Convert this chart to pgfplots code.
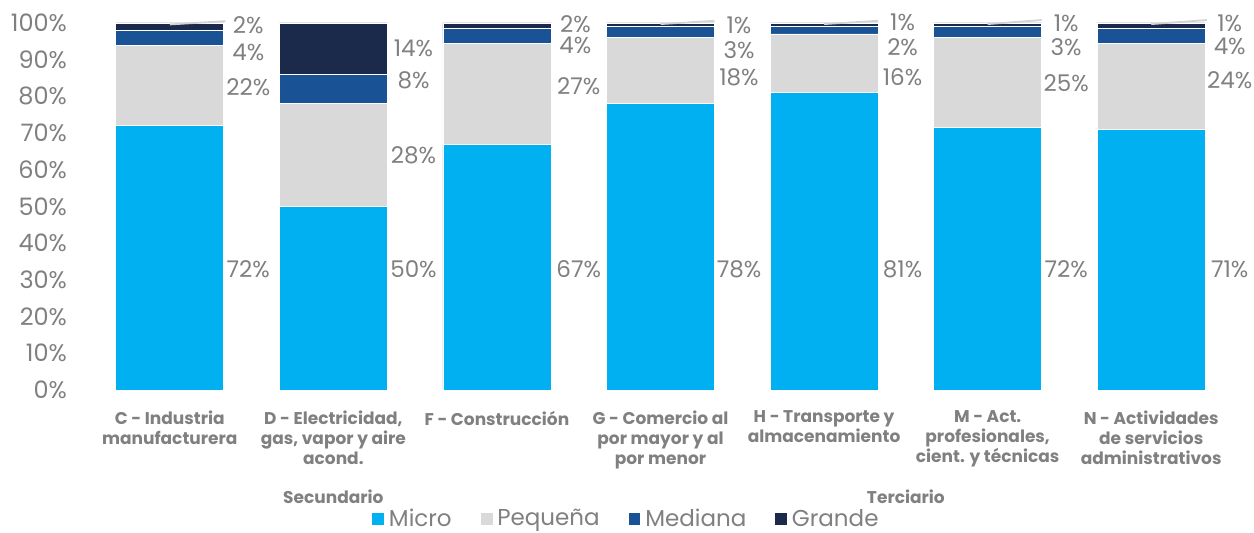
\documentclass[border=0pt]{standalone}
\usepackage{fontspec}
\setmainfont{Poppins}
\usepackage{pgfplots}
\usepackage{pgfplotstable}
\pgfplotsset{compat=1.18}

\definecolor{cMicro}{HTML}{00B0F0}
\definecolor{cPeq}{HTML}{D9D9D9}
\definecolor{cMed}{HTML}{1A5296}
\definecolor{cGra}{HTML}{1B2A4A}
\definecolor{txt}{HTML}{808080}

% shares by size, per sector (percent)
\pgfplotstableread{
x micro peq  med gra
0 72    22   4   2
1 50    28   8   14
2 67    27.5 4   1.5
3 78    18   3   1
4 81    16   2   1
5 71.5  24.5 3   1
6 71    23.5 4   1.5
}\shares

% data labels: position and printed value
\pgfplotstableread{
x    y     v
0.48 99.5  2
0.48 92.1  4
0.48 82.6  22
0.48 33.0  72
1.49 93.2  14
1.49 84.5  8
1.49 64.0  28
1.49 33.0  50
2.48 99.7  2
2.48 93.8  4
2.50 82.8  27
2.50 33.0  67
3.48 99.5  1
3.48 92.6  3
3.48 85.3  18
3.48 33.0  78
4.48 100.3 1
4.48 93.5  2
4.48 85.3  16
4.48 33.0  81
5.48 100.0 1
5.48 93.5  3
5.48 83.7  25
5.48 33.0  72
6.48 100.0 1
6.48 93.5  4
6.48 84.5  24
6.48 33.0  71
}\labels

\pgfplotsset{base/.style={
  scale only axis, width=572.5pt, height=183.5pt,
  xmin=-0.5, xmax=6.5, ymin=0, ymax=100}}

\begin{document}
\begin{tikzpicture}
\begin{axis}[base,
  ybar stacked, bar width=54pt,
  axis line style={draw=none}, major tick length=0pt,
  ytick={0,10,...,100},
  yticklabel={\pgfmathprintnumber{\tick}\%},
  yticklabel style={font=\fontsize{12}{14}\selectfont, text=txt,
    /pgf/number format/assume math mode=true, xshift=-7pt},
  xtick={0,...,6},
  xticklabels={{C - Industria\\manufacturera},
    {D - Electricidad,\\gas, vapor y aire\\acond.},
    {F - Construcción},
    {G - Comercio al\\por mayor y al\\por menor},
    {H - Transporte y\\almacenamiento},
    {M - Act.\\profesionales,\\cient. y técnicas},
    {N - Actividades\\de servicios\\administrativos}},
  xticklabel style={align=center, text=txt, yshift=-7pt,
    font=\bfseries\fontsize{8.5}{10}\selectfont},
  legend style={at={(0.4707,-0.352)}, anchor=center, draw=none,
    font=\fontsize{11.5}{13}\selectfont, text=txt, legend columns=-1,
    inner sep=1pt,
    /tikz/every even column/.append style={column sep=12pt}},
  legend image code/.code={\fill[#1] (0pt,-3.2pt) rectangle (6.4pt,3.2pt);},
]
\addplot[fill=cMicro, draw=white, line width=0.4pt] table[x=x, y=micro] {\shares};
\addlegendentry{Micro}
\addplot[fill=cPeq, draw=white, line width=0.4pt] table[x=x, y=peq] {\shares};
\addlegendentry{Pequeña}
\addplot[fill=cMed, draw=white, line width=0.4pt] table[x=x, y=med] {\shares};
\addlegendentry{Mediana}
\addplot[fill=cGra, draw=white, line width=0.4pt] table[x=x, y=gra] {\shares};
\addlegendentry{Grande}
\end{axis}

\begin{axis}[base, hide axis, clip=false]
\addplot[draw=none, mark=none, point meta=explicit,
  nodes near coords={\pgfmathprintnumber{\pgfplotspointmeta}\%},
  nodes near coords style={anchor=center, text=txt, inner sep=0.5pt,
    /pgf/number format/assume math mode=true,
    font=\fontsize{11.5}{13}\selectfont}]
  table[x=x, y=y, meta=v] {\labels};
% leader lines
\addplot[gray!35, line width=0.9pt] coordinates {(0,99.6)(0.34,100.5)};
\addplot[gray!35, line width=0.9pt] coordinates {(3,99.7)(3.33,100.6)};
\addplot[gray!35, line width=0.9pt] coordinates {(4,99.7)(4.33,100.6)};
\addplot[gray!35, line width=0.9pt] coordinates {(5,99.7)(5.33,100.8)};
\addplot[gray!35, line width=0.9pt] coordinates {(6,99.7)(6.34,100.8)};
\node[text=txt, font=\bfseries\fontsize{8.5}{10}\selectfont, yshift=-53.5pt]
  at (axis cs:1,0) {Secundario};
\node[text=txt, font=\bfseries\fontsize{8.5}{10}\selectfont, yshift=-53.5pt]
  at (axis cs:4.5,0) {Terciario};
\coordinate (bl) at ([xshift=-44pt, yshift=-71.5pt]rel axis cs:0,0);
\coordinate (tr) at ([xshift=10.5pt, yshift=11.5pt]rel axis cs:1,1);
\end{axis}
\pgfresetboundingbox
\path[use as bounding box] (bl) rectangle (tr);
\end{tikzpicture}
\end{document}
